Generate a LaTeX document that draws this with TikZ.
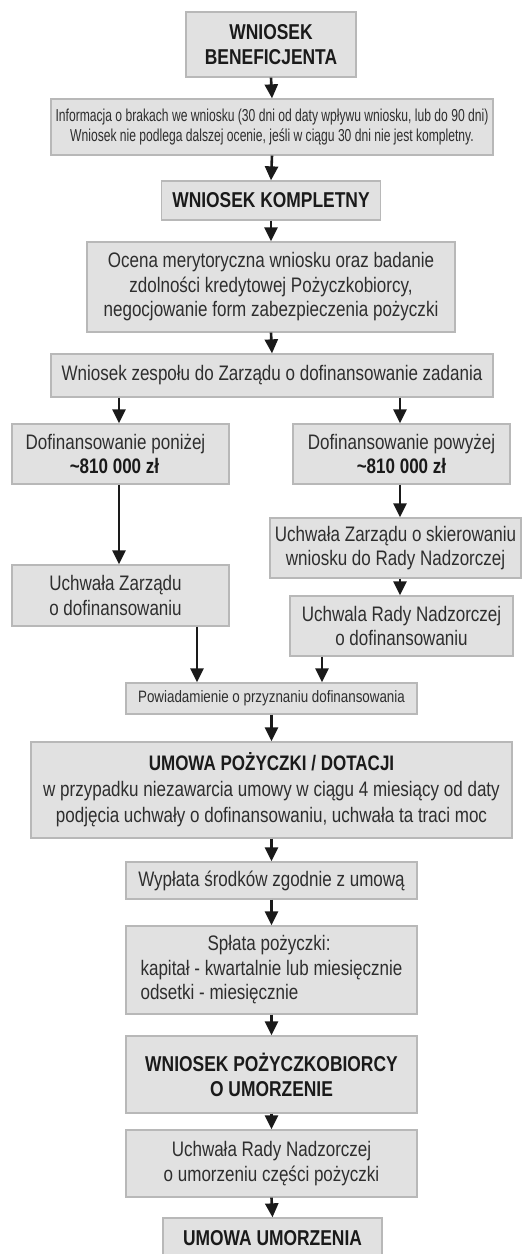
\documentclass[tikz,border=0pt]{standalone}
\usepackage{fontspec}
\setmainfont{Liberation Sans}[FakeStretch=0.81]
\newfontfamily\smallfnt{Liberation Sans}[FakeStretch=0.70]
\usetikzlibrary{arrows.meta}
\definecolor{boxfill}{HTML}{E1E1E1}
\definecolor{boxline}{HTML}{B8B8B8}
\definecolor{txt}{HTML}{2E2E2E}
\definecolor{arrc}{HTML}{1A1A1A}
\tikzset{
  box/.style={draw=boxline, fill=boxfill, line width=1.3pt, inner sep=0pt, align=center, text=txt,
    font=\fontsize{21}{24.5}\selectfont},
  titlebox/.style={box, text=arrc, font=\fontsize{21.5}{25}\selectfont\bfseries},
  smallbox/.style={box, font=\fontsize{17.3}{20}\selectfont\smallfnt},
  notebox/.style={box, font=\fontsize{16.5}{19}\selectfont},
  arr/.style={draw=arrc, line width=2.6pt, -{Triangle[width=13pt,length=14pt]}}
}
\begin{document}
\begin{tikzpicture}[x=1pt,y=-1pt]
\useasboundingbox (0,0) rectangle (523,1254);
\clip (0,0) rectangle (523,1254);
\node[titlebox, minimum width=170pt, minimum height=65pt] (b1) at (271,44.5) {WNIOSEK\\BENEFICJENTA};
\node[smallbox, minimum width=442pt, minimum height=56pt] (b2) at (272,127) {Informacja o brakach we wniosku (30 dni od daty wpływu wniosku, lub do 90 dni)\\Wniosek nie podlega dalszej ocenie, jeśli w ciągu 30 dni nie jest kompletny.};
\node[titlebox, minimum width=219pt, minimum height=39pt] (b3) at (271,200.5) {WNIOSEK KOMPLETNY};
\node[box, minimum width=368pt, minimum height=90pt] (b4) at (271,287) {Ocena merytoryczna wniosku oraz badanie\\zdolności kredytowej Pożyczkobiorcy,\\negocjowanie form zabezpieczenia pożyczki};
\node[box, minimum width=442pt, minimum height=43pt] (b5) at (272,375.5) {Wniosek zespołu do Zarządu o dofinansowanie zadania};
\node[box, minimum width=217pt, minimum height=60pt] (b6) at (120.5,454) {Dofinansowanie poniżej\hspace*{10pt}\\\textbf{\color{arrc}\textasciitilde 810 000 zł}\hspace*{12pt}};
\node[box, minimum width=217pt, minimum height=60pt] (b7) at (401.5,454) {Dofinansowanie powyżej\\\textbf{\color{arrc}\textasciitilde 810 000 zł}};
\node[box, minimum width=217pt, minimum height=61pt] (b8) at (120.5,595.5) {Uchwała Zarządu\hspace*{10pt}\\o dofinansowaniu\hspace*{10pt}};
\node[box, minimum width=251pt, minimum height=60pt] (b9) at (395.5,548) {Uchwała Zarządu o skierowaniu\\wniosku do Rady Nadzorczej};
\node[box, minimum width=223pt, minimum height=60pt] (b10) at (401.5,626) {Uchwala Rady Nadzorczej\\o dofinansowaniu};
\node[notebox, minimum width=291pt, minimum height=31pt] (b11) at (271.5,698.5) {Powiadamienie o przyznaniu dofinansowania};
\node[box, minimum width=481pt, minimum height=96pt, font=\fontsize{21}{26}\selectfont] (b12) at (271.5,790) {\textbf{\color{arrc}UMOWA POŻYCZKI / DOTACJI}\\w przypadku niezawarcia umowy w ciągu 4 miesiący od daty\\podjęcia uchwały o dofinansowaniu, uchwała ta traci moc};
\node[box, minimum width=291pt, minimum height=37pt] (b13) at (271.5,880.5) {Wypłata środków zgodnie z umową};
\node[box, minimum width=291pt, minimum height=88pt, align=left] (b14) at (271.5,970) {\makebox[257pt][c]{Spłata pożyczki:}\\kapitał - kwartalnie lub miesięcznie\\odsetki - miesięcznie};
\node[titlebox, minimum width=291pt, minimum height=77pt] (b15) at (271.5,1074.5) {WNIOSEK POŻYCZKOBIORCY\\O UMORZENIE};
\node[box, minimum width=291pt, minimum height=67pt] (b16) at (271.5,1163.5) {Uchwała Rady Nadzorczej\\o umorzeniu części pożyczki};
\node[titlebox, minimum width=219pt, minimum height=41pt] (b17) at (272.5,1238.5) {UMOWA UMORZENIA};
% connectors
\draw[arr] (b1.south) -- (b2.north);
\draw[arr] (b2.south) -- (b3.north);
\draw[arr] (b3.south) -- (b4.north);
\draw[arr] (b4.south) -- (b5.north);
\draw[arr] ([xshift=-1.5pt]b6.north |- b5.south) -- ([xshift=-1.5pt]b6.north);
\draw[arr] ([xshift=-1.5pt]b7.north |- b5.south) -- ([xshift=-1.5pt]b7.north);
\draw[arr] ([xshift=-1.5pt]b6.south) -- ([xshift=-1.5pt]b8.north);
\draw[arr] ([xshift=-1.5pt]b7.south) -- ([xshift=-1.5pt]b7.south |- b9.north);
\draw[arr] ([xshift=-1.5pt]b7.south |- b9.south) -- ([xshift=-1.5pt]b7.south |- b10.north);
\draw[arr] ([xshift=76.5pt]b8.south) -- ([xshift=76.5pt]b8.south |- b11.north);
\draw[arr] ([xshift=-79.5pt]b10.south) -- ([xshift=-79.5pt]b10.south |- b11.north);
\draw[arr] (b11.south) -- (b12.north);
\draw[arr] (b12.south) -- (b13.north);
\draw[arr] (b13.south) -- (b14.north);
\draw[arr] (b14.south) -- (b15.north);
\draw[arr] (b15.south) -- (b16.north);
\draw[arr] (b16.south) -- (b17.north);
\end{tikzpicture}
\end{document}
